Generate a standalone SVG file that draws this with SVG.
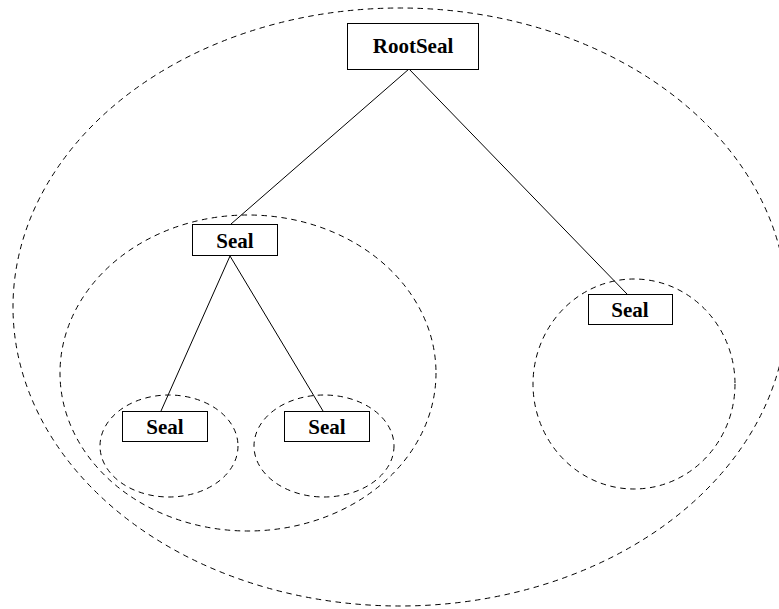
<svg xmlns="http://www.w3.org/2000/svg" width="779" height="609" viewBox="0 0 779 609">
  <style>
    .region { fill: none; stroke: #000; stroke-width: 1; stroke-dasharray: 5.5 4.5; }
    .box { fill: #fff; stroke: #000; stroke-width: 1; }
    .edge { fill: none; stroke: #000; stroke-width: 1; }
    .label { font-family: "Liberation Serif", "Times New Roman", serif; font-weight: bold; font-size: 21px; text-anchor: middle; fill: #000; }
  </style>
  <rect width="779" height="609" fill="#fff"/>

  <!-- dashed seal regions -->
  <g id="regions">
    <ellipse class="region" cx="400" cy="307" rx="387" ry="299"/>
    <ellipse class="region" cx="248" cy="373" rx="188" ry="158"/>
    <ellipse class="region" cx="169" cy="446" rx="69" ry="51"/>
    <ellipse class="region" cx="324" cy="446" rx="70" ry="51"/>
    <ellipse class="region" cx="634" cy="384" rx="101" ry="105"/>
  </g>

  <!-- tree edges -->
  <g id="connectors">
    <line class="edge" x1="409" y1="69" x2="231" y2="224"/>
    <line class="edge" x1="409" y1="69" x2="627" y2="294"/>
    <line class="edge" x1="230" y1="256" x2="161" y2="411"/>
    <line class="edge" x1="230" y1="256" x2="323" y2="411"/>
  </g>

  <g id="root-seal">
    <rect class="box" x="347.5" y="23.5" width="131" height="46"/>
    <text class="label" x="413" y="53">RootSeal</text>
  </g>
  <g id="seal-mid">
    <rect class="box" x="192.5" y="224.5" width="85" height="31"/>
    <text class="label" x="235" y="248">Seal</text>
  </g>
  <g id="seal-left">
    <rect class="box" x="122.5" y="411.5" width="85" height="30"/>
    <text class="label" x="165" y="434">Seal</text>
  </g>
  <g id="seal-center">
    <rect class="box" x="284.5" y="411.5" width="85" height="30"/>
    <text class="label" x="327" y="434">Seal</text>
  </g>
  <g id="seal-right">
    <rect class="box" x="588.5" y="294.5" width="84" height="30"/>
    <text class="label" x="630" y="317">Seal</text>
  </g>
</svg>
